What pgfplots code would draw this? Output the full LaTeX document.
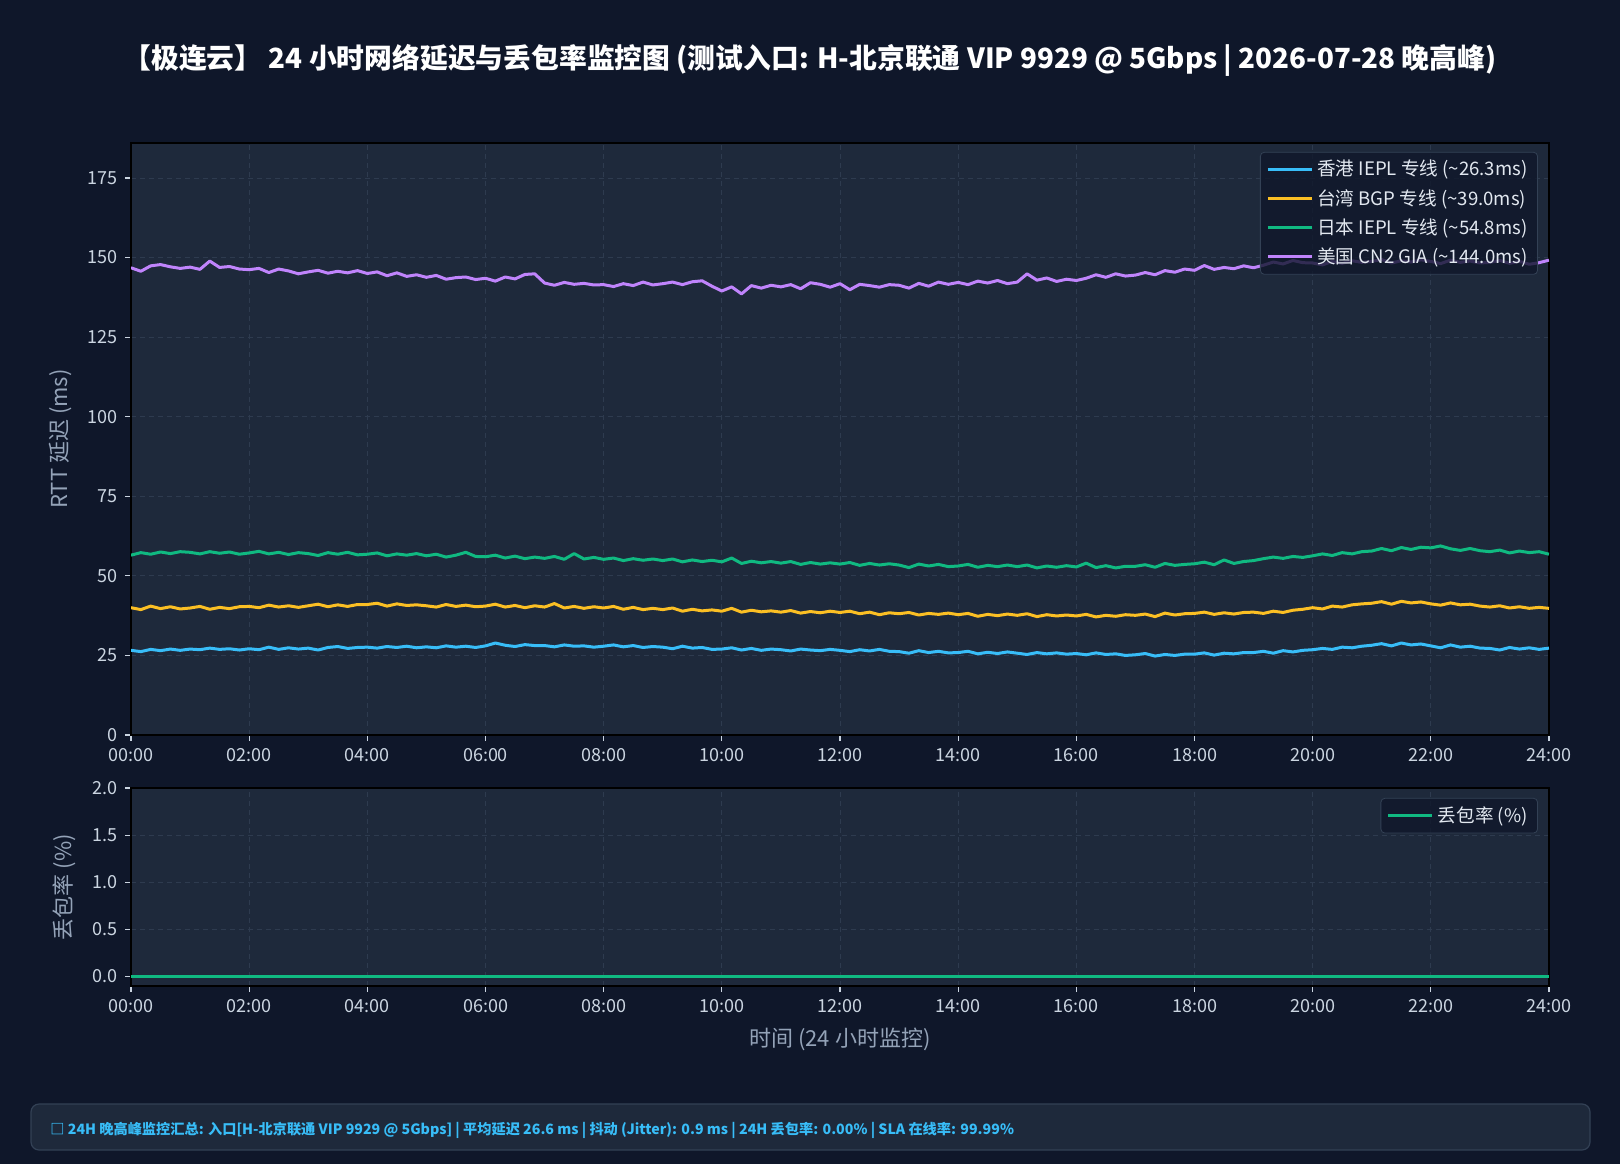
\documentclass[border=0pt]{standalone}
\usepackage{fontspec}
\setmainfont{Noto Sans CJK SC}
\usepackage{pgfplots}
\pgfplotsset{compat=1.18}
\usepackage{pgfplotstable}

\definecolor{bg}{HTML}{0F172A}
\definecolor{panel}{HTML}{1E293B}
\definecolor{gridc}{HTML}{334155}
\definecolor{tickc}{HTML}{CBD5E1}
\definecolor{labelc}{HTML}{94A3B8}
\definecolor{legtext}{HTML}{E2E8F0}
\definecolor{hk}{HTML}{38BDF8}
\definecolor{tw}{HTML}{FBBF24}
\definecolor{jp}{HTML}{10B981}
\definecolor{us}{HTML}{C084FC}

% RTT samples every 10 minutes, 00:00 .. 24:00 (145 rows)
\pgfplotstableread{
hk tw jp us
26.6 40.0 56.5 146.8
26.2 39.4 57.3 145.7
26.9 40.5 56.8 147.4
26.5 39.7 57.5 147.8
27.0 40.3 57.0 147.1
26.6 39.6 57.6 146.6
27.0 39.9 57.4 147.0
26.8 40.4 56.9 146.3
27.3 39.5 57.6 148.9
26.9 40.1 57.1 146.9
27.1 39.7 57.5 147.2
26.7 40.3 56.8 146.4
27.1 40.4 57.2 146.2
26.8 40.0 57.7 146.6
27.6 40.8 56.9 145.3
26.9 40.2 57.4 146.4
27.4 40.6 56.7 145.8
27.0 40.1 57.3 144.9
27.3 40.6 57.0 145.5
26.7 41.1 56.4 146.0
27.5 40.3 57.3 145.1
27.8 40.9 56.8 145.7
27.2 40.4 57.4 145.2
27.5 41.0 56.6 145.9
27.6 41.0 56.8 145.0
27.3 41.4 57.2 145.5
27.8 40.5 56.3 144.3
27.5 41.2 56.9 145.2
27.9 40.7 56.5 144.1
27.4 40.9 57.0 144.6
27.7 40.6 56.3 143.8
27.4 40.2 56.8 144.4
28.0 41.0 55.9 143.2
27.6 40.4 56.5 143.7
27.9 40.8 57.4 143.9
27.5 40.3 56.1 143.1
28.0 40.5 56.0 143.5
28.9 41.1 56.5 142.6
28.2 40.2 55.6 143.9
27.8 40.7 56.2 143.3
28.4 40.0 55.4 144.7
28.1 40.6 55.9 144.9
28.1 40.2 55.5 142.0
27.7 41.3 56.1 141.3
28.3 39.9 55.2 142.2
27.9 40.4 57.0 141.6
28.0 39.8 55.3 141.9
27.6 40.3 55.8 141.4
27.9 39.9 55.2 141.5
28.3 40.4 55.6 140.9
27.7 39.5 54.8 141.8
28.1 40.1 55.4 141.2
27.5 39.4 54.9 142.3
27.8 39.8 55.3 141.4
27.6 39.4 54.8 141.8
27.1 39.9 55.3 142.3
27.9 38.9 54.4 141.5
27.3 39.5 55.0 142.4
27.5 39.0 54.5 142.7
26.9 39.3 54.9 141.0
27.0 38.9 54.4 139.5
27.4 39.8 55.6 140.8
26.7 38.6 53.9 138.6
27.2 39.2 54.6 141.2
26.6 38.7 54.1 140.4
27.0 39.0 54.5 141.3
26.8 38.6 54.0 140.8
26.4 39.1 54.5 141.5
27.0 38.3 53.6 140.2
26.7 38.8 54.2 142.1
26.5 38.4 53.7 141.6
26.9 38.9 54.1 140.7
26.6 38.5 53.7 141.8
26.2 38.9 54.2 139.9
26.8 38.1 53.3 141.6
26.4 38.6 53.9 141.2
26.9 37.8 53.4 140.7
26.3 38.4 53.8 141.5
26.2 38.1 53.4 141.3
25.7 38.5 52.6 140.4
26.5 37.7 53.7 141.9
25.9 38.2 53.1 141.0
26.3 37.9 53.6 142.3
25.8 38.3 52.9 141.6
25.9 37.8 53.1 142.2
26.3 38.2 53.6 141.5
25.5 37.3 52.7 142.6
26.0 37.9 53.3 142.0
25.6 37.5 52.9 142.8
26.1 38.0 53.4 141.8
25.7 37.6 52.9 142.3
25.3 38.1 53.4 144.9
25.9 37.2 52.5 142.9
25.5 37.8 53.1 143.6
25.8 37.4 52.7 142.5
25.4 37.7 53.2 143.2
25.6 37.4 52.8 142.8
25.2 37.9 54.0 143.5
25.8 37.1 52.6 144.6
25.3 37.6 53.2 143.8
25.5 37.3 52.5 144.9
25.0 37.8 53.0 144.2
25.2 37.6 53.0 144.5
25.6 38.0 53.5 145.3
24.8 37.2 52.7 144.6
25.3 38.3 53.9 145.9
25.0 37.7 53.3 145.4
25.4 38.1 53.6 146.4
25.4 38.2 53.8 146.0
25.8 38.6 54.3 147.5
25.1 37.9 53.5 146.3
25.7 38.4 55.0 146.9
25.5 38.0 53.9 146.5
25.9 38.5 54.5 147.4
25.9 38.6 54.8 146.8
26.3 38.2 55.4 147.6
25.7 38.9 55.9 148.6
26.5 38.5 55.5 148.0
26.1 39.2 56.1 149.1
26.6 39.5 55.8 148.4
26.8 40.0 56.3 148.3
27.2 39.6 56.9 147.7
26.9 40.5 56.4 148.8
27.6 40.2 57.3 148.2
27.4 40.9 56.9 149.0
27.9 41.2 57.6 148.5
28.2 41.4 57.8 148.8
28.7 41.9 58.6 149.4
28.0 41.1 57.9 148.3
28.9 42.0 58.9 149.0
28.3 41.5 58.3 148.6
28.6 41.8 59.0 149.3
28.0 41.2 58.8 148.8
27.4 40.8 59.4 148.1
28.3 41.5 58.5 149.2
27.6 40.9 58.0 148.5
27.9 41.1 58.6 148.9
27.3 40.5 57.9 148.3
27.2 40.2 57.6 148.5
26.7 40.6 58.1 149.1
27.5 39.9 57.2 148.2
27.0 40.3 57.8 148.8
27.4 39.8 57.3 147.9
26.9 40.1 57.6 148.4
27.3 39.8 56.8 149.2
}\rttdata

% packet loss, hourly
\pgfplotstableread{
h loss
0 0.0
1 0.0
2 0.0
3 0.0
4 0.0
5 0.0
6 0.0
7 0.0
8 0.0
9 0.0
10 0.0
11 0.0
12 0.0
13 0.0
14 0.0
15 0.0
16 0.0
17 0.0
18 0.0
19 0.0
20 0.0
21 0.0
22 0.0
23 0.0
24 0.0
}\lossdata

\pgfplotsset{
  netaxis/.style={
    scale only axis,
    width=709pt,
    axis background/.style={fill=panel},
    axis line style={black, line width=0.8pt},
    tick align=outside, tick pos=left,
    major tick length=3pt,
    major tick style={tickc, line width=0.6pt},
    xmin=0, xmax=24,
    xtick={0,2,...,24},
    xticklabels={00:00,02:00,04:00,06:00,08:00,10:00,12:00,14:00,16:00,18:00,20:00,22:00,24:00},
    grid=major,
    major grid style={gridc!75!panel, dash pattern=on 2.5pt off 2pt, line width=0.4pt},
    ticklabel style={tickc, font=\fontsize{9}{10}\selectfont},
    /pgf/number format/assume math mode=true,
    label style={labelc, font=\fontsize{11}{13}\selectfont},
    legend cell align=left,
    legend style={fill=bg, fill opacity=0.8, text opacity=1, draw=gridc,
      rounded corners=2pt, text=legtext, font=\fontsize{9.3}{11}\selectfont,
      inner xsep=3pt, inner ysep=2pt, row sep=1.2pt},
    legend image code/.code={\draw[#1, line width=1.5pt] (0pt,0pt) -- (18pt,0pt);
      \path (0pt,0pt) -- (22pt,0pt);},
    every axis plot/.append style={line width=1.5pt, line join=round, mark=none},
  }
}

\begin{document}
\begin{tikzpicture}
\fill[bg] (0pt,0pt) rectangle (810pt,582pt);

\node[text=white, font=\fontsize{13.9}{16}\selectfont\bfseries] at (405pt,552pt)
  {【极连云】 24 小时网络延迟与丢包率监控图 (测试入口: H-北京联通 VIP 9929 @ 5Gbps | 2026-07-28 晚高峰)};

% RTT panel
\begin{axis}[netaxis,
  at={(65.5pt,214.5pt)}, anchor=south west,
  height=296pt,
  ymin=0, ymax=186,
  ytick={0,25,...,175},
  ylabel={RTT 延迟 (ms)},
  ylabel style={at={(axis description cs:-0.05,0.5)}, anchor=center, rotate=0},
  legend style={at={(axis description cs:0.9922,0.985)}, anchor=north east},
]
\addplot[hk] table[x expr=\coordindex/6, y=hk] {\rttdata};
\addlegendentry{香港 IEPL 专线 (\textasciitilde26.3ms)}
\addplot[tw] table[x expr=\coordindex/6, y=tw] {\rttdata};
\addlegendentry{台湾 BGP 专线 (\textasciitilde39.0ms)}
\addplot[jp] table[x expr=\coordindex/6, y=jp] {\rttdata};
\addlegendentry{日本 IEPL 专线 (\textasciitilde54.8ms)}
\addplot[us] table[x expr=\coordindex/6, y=us] {\rttdata};
\addlegendentry{美国 CN2 GIA (\textasciitilde144.0ms)}
\end{axis}

% packet loss panel
\begin{axis}[netaxis,
  at={(65.5pt,89pt)}, anchor=south west,
  height=99pt,
  ymin=-0.1, ymax=2.0,
  ytick={0,0.5,1,1.5,2},
  yticklabels={0.0,0.5,1.0,1.5,2.0},
  ylabel={丢包率 (\%)},
  ylabel style={at={(axis description cs:-0.047,0.5)}, anchor=center},
  xlabel={时间 (24 小时监控)},
  xlabel style={at={(axis description cs:0.5,-0.27)}, anchor=center},
  legend style={at={(axis description cs:0.9922,0.95)}, anchor=north east},
]
\addplot[jp] table[x=h, y=loss] {\lossdata};
\addlegendentry{丢包率 (\%)}
\end{axis}

% summary bar
\draw[fill=panel, draw=gridc, line width=0.6pt, rounded corners=4pt] (15.5pt,7pt) rectangle (795pt,30pt);
\node[anchor=west, text=hk, font=\fontsize{7.1}{8}\selectfont\bfseries, inner sep=0pt] at (25pt,17pt)
  {□ 24H 晚高峰监控汇总: 入口[H-北京联通 VIP 9929 @ 5Gbps] | 平均延迟 26.6 ms | 抖动 (Jitter): 0.9 ms | 24H 丢包率: 0.00\% | SLA 在线率: 99.99\%};

\pgfresetboundingbox
\useasboundingbox (0pt,0pt) rectangle (810pt,582pt);
\end{tikzpicture}
\end{document}
